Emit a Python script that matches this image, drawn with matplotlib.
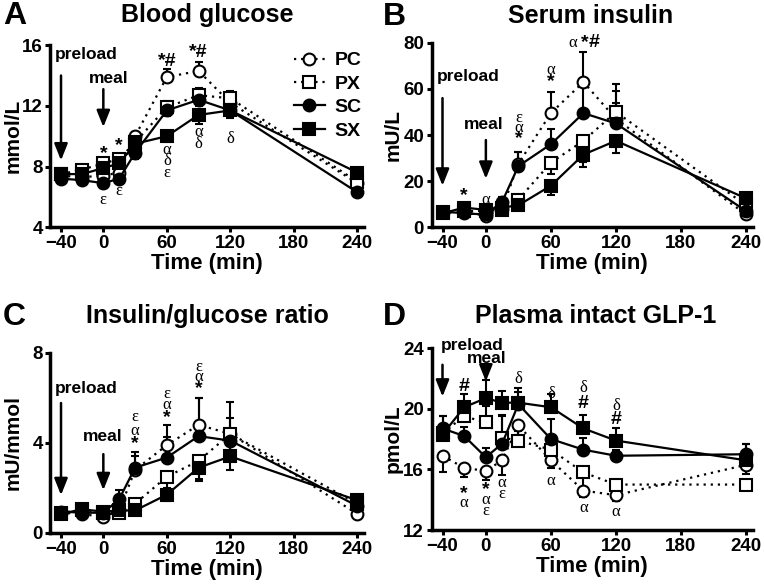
import numpy as np
import matplotlib
matplotlib.use("Agg")
import matplotlib.pyplot as plt

plt.rcParams['font.family'] = ['Liberation Sans', 'DejaVu Sans']
plt.rcParams['font.weight'] = 'bold'

# DATA
time_min = [-40, -20, 0, 15, 30, 60, 90, 120, 240]
x_ticks = [-40, 0, 60, 120, 180, 240]
groups = ['PC', 'PX', 'SC', 'SX']

# A - blood glucose (mmol/L); error sign: + bar drawn up, - bar drawn down
glu_pc = [7.4, 7.3, 7.4, 7.6, 10.0, 13.9, 14.3, 12.2, 6.9]
glu_px = [7.5, 7.8, 8.2, 8.5, 9.6, 11.9, 12.7, 12.5, 7.0]
glu_sc = [7.2, 7.1, 6.9, 7.2, 8.9, 11.7, 12.4, 11.7, 6.3]
glu_sx = [7.5, 7.5, 7.9, 8.2, 9.5, 10.0, 11.4, 11.7, 7.6]
glu_pc_err = [0.2, 0.2, 0.3, 0.3, 0.3, 0.5, 0.6, 0.5, 0.3]
glu_px_err = [0.2, 0.2, 0.3, 0.3, 0.3, 0.4, 0.5, 0.5, 0.3]
glu_sc_err = [-0.2, -0.2, -0.3, -0.3, -0.4, -0.4, -0.4, -0.4, -0.2]
glu_sx_err = [-0.2, -0.2, -0.3, -0.3, -0.5, -0.4, -0.6, -0.5, -0.3]

# B - serum insulin (mU/L)
ins_pc = [6.5, 6.5, 5.0, 8.0, 27.5, 49.5, 63.0, 47.0, 5.5]
ins_px = [6.5, 7.0, 7.0, 7.5, 12.0, 28.0, 37.5, 50.0, 9.5]
ins_sc = [6.8, 6.0, 5.5, 11.0, 26.5, 36.0, 49.5, 45.0, 7.0]
ins_sx = [6.0, 8.5, 7.5, 8.5, 9.5, 18.0, 31.5, 37.5, 12.5]
ins_pc_err = [1, 1, 1, 2, 5, 9, 13, 12, 1]
ins_px_err = [-1, -1, -1, -1, -1, -5, -9, 12, -2]
ins_sc_err = [1, 1, 1, 2, 6, 6.5, 12, 9, 1]
ins_sx_err = [-1, -1, -1, -1, -1, -4, -5.5, -5.5, -1]

# C - insulin/glucose ratio (mU/mmol)
rat_pc = [0.9, 0.85, 0.7, 1.0, 2.8, 3.9, 4.8, 4.4, 0.85]
rat_px = [0.9, 1.0, 0.9, 0.9, 1.3, 2.5, 3.2, 4.4, 1.3]
rat_sc = [0.95, 0.9, 0.9, 1.5, 2.9, 3.35, 4.3, 4.1, 1.2]
rat_sx = [0.85, 1.05, 0.95, 1.0, 1.0, 1.7, 2.9, 3.4, 1.45]
rat_pc_err = [0.1, 0.1, 0.1, 0.1, 0.6, 0.9, 1.2, 1.4, 0.1]
rat_px_err = [-0.1, -0.1, -0.1, -0.1, -0.2, -0.5, -0.8, -0.8, -0.1]
rat_sc_err = [0.1, 0.1, 0.1, 0.4, 0.7, 0.9, 1.7, 1.0, 0.2]
rat_sx_err = [-0.1, -0.1, -0.1, -0.1, -0.1, -0.3, -0.6, -0.6, -0.2]

# D - plasma intact GLP-1 (pmol/L)
glp_pc = [16.9, 16.1, 15.9, 16.6, 18.9, 16.6, 14.6, 14.3, 16.3]
glp_px = [18.4, 19.5, 19.1, 18.1, 17.9, 17.3, 15.8, 15.0, 15.0]
glp_sc = [18.7, 18.2, 16.8, 17.7, 20.3, 18.0, 17.3, 16.9, 17.0]
glp_sx = [18.3, 20.1, 20.7, 20.4, 20.4, 20.1, 18.7, 17.9, 16.6]
glp_pc_err = [-1.1, -0.6, -0.6, -1.0, -0.6, -0.5, -0.4, -0.4, -0.6]
glp_px_err = [0.5, 0.6, 1.1, 1.5, 0.6, -0.5, -1.0, -0.8, 0.3]
glp_sc_err = [0.8, 0.6, 0.6, 1.8, 0.8, 1.3, 0.8, 0.4, 0.7]
glp_sx_err = [1.2, 0.9, 1.2, 0.8, 1.0, 0.9, 0.9, 0.8, 1.1]

# significance marks: (time, y, text)
marks_a = [(60, 14.9, '*#'), (90, 15.5, '*#'), (0, 8.85, '*'), (15, 9.4, '*'),
           (0, 5.8, 'ε'), (15, 6.4, 'ε'), (60, 9.1, 'α'), (60, 8.36, 'δ'),
           (60, 7.6, 'ε'), (90, 10.3, 'α'), (90, 9.5, 'δ'), (120, 9.8, 'δ')]
marks_b = [(-20, 13.8, '*'), (0, 11.6, 'α'), (30, 47.3, 'ε'), (30, 43.2, 'α'),
           (30, 38.5, '*'), (60, 68.4, 'α'), (60, 63.3, '*'), (80, 80, 'α'),
           (91, 80, '*'), (100, 80, '#')]
marks_c = [(30, 5.17, 'ε'), (30, 4.54, 'α'), (30, 3.99, '*'),
           (60, 6.19, 'ε'), (60, 5.7, 'α'), (60, 5.13, '*'),
           (90, 7.36, 'ε'), (90, 6.91, 'α'), (90, 6.39, '*')]
marks_d = [(-20, 21.47, '#'), (30, 21.96, 'δ'), (60, 20.99, 'δ'), (90, 21.36, 'δ'),
           (90, 20.37, '#'), (120, 20.15, 'δ'), (120, 19.27, '#'),
           (-20, 14.4, '*'), (-20, 13.8, 'α'), (0, 14.7, '*'), (0, 14.0, 'α'),
           (0, 13.25, 'ε'), (15, 15.08, 'α'), (15, 14.4, 'ε'), (60, 15.26, 'α'),
           (90, 13.43, 'α'), (120, 13.2, 'α')]


def group_style(name):
    """marker / fill / line style for each group"""
    marker = 'o' if name[1] == 'C' else 's'
    face = 'white' if name[0] == 'P' else 'black'
    ls = (0, (1, 2.2)) if name[0] == 'P' else '-'
    return marker, face, ls


def plot_series(ax, y, err, name):
    marker, face, ls = group_style(name)
    err = np.array(err, dtype=float)
    lower = np.where(err < 0, -err, 0)
    upper = np.where(err > 0, err, 0)
    ax.errorbar(time_min, y, yerr=[lower, upper], fmt='none', ecolor='black',
                elinewidth=1.5, capsize=3, capthick=1.5, zorder=2)
    ax.plot(time_min, y, linestyle=ls, color='black', lw=1.6, marker=marker,
            markersize=8.5, markerfacecolor=face, markeredgecolor='black',
            markeredgewidth=1.5, label=name, zorder=3)


def style_axes(ax, ylim, yticks, ylabel):
    ax.set_xlim(-50, 246)
    ax.set_ylim(*ylim)
    ax.set_xticks(x_ticks)
    ax.set_yticks(yticks)
    for s in ['top', 'right']:
        ax.spines[s].set_visible(False)
    for s in ['left', 'bottom']:
        ax.spines[s].set_linewidth(2.5)
    ax.tick_params(width=2.2, length=3.5, labelsize=13.5, pad=2)
    ax.set_xlabel('Time (min)', fontsize=16, fontweight='bold', labelpad=1)
    ax.set_ylabel(ylabel, fontsize=15, fontweight='bold')
    ax.yaxis.set_label_coords(-0.09, 0.5)


def add_marks(ax, marks):
    for t, y, txt in marks:
        if txt in ('α', 'δ', 'ε'):
            ax.text(t, y, txt, ha='center', va='center', fontsize=12, zorder=5,
                    family=['Liberation Serif', 'DejaVu Serif'], fontweight='normal')
        else:
            ax.text(t, y, txt, ha='center', va='center', fontsize=14,
                    fontweight='bold', zorder=5)


def add_arrow(ax, x, y0, y1):
    ax.annotate('', xy=(x, y1), xytext=(x, y0),
                arrowprops=dict(arrowstyle='-|>,head_width=0.4,head_length=1.0',
                                lw=1.8, color='black', mutation_scale=10,
                                shrinkA=0, shrinkB=0))


fig = plt.figure(figsize=(7.64, 5.87), dpi=100)
ax_a = fig.add_axes([0.066, 0.613, 0.41, 0.31])
ax_b = fig.add_axes([0.565, 0.613, 0.42, 0.314])
ax_c = fig.add_axes([0.066, 0.092, 0.41, 0.307])
ax_d = fig.add_axes([0.565, 0.097, 0.42, 0.31])

panels = [
    (ax_a, [glu_pc, glu_px, glu_sc, glu_sx], [glu_pc_err, glu_px_err, glu_sc_err, glu_sx_err],
     (4, 16), [4, 8, 12, 16], 'mmol/L', 'A', 'Blood glucose', marks_a, 1.128, 0.50),
    (ax_b, [ins_pc, ins_px, ins_sc, ins_sx], [ins_pc_err, ins_px_err, ins_sc_err, ins_sx_err],
     (0, 80), [0, 20, 40, 60, 80], 'mU/L', 'B', 'Serum insulin', marks_b, 1.11, 0.495),
    (ax_c, [rat_pc, rat_px, rat_sc, rat_sx], [rat_pc_err, rat_px_err, rat_sc_err, rat_sx_err],
     (0, 8), [0, 4, 8], 'mU/mmol', 'C', 'Insulin/glucose ratio', marks_c, 1.167, 0.50),
    (ax_d, [glp_pc, glp_px, glp_sc, glp_sx], [glp_pc_err, glp_px_err, glp_sc_err, glp_sx_err],
     (12, 24), [12, 16, 20, 24], 'pmol/L', 'D', 'Plasma intact GLP-1', marks_d, 1.137, 0.51),
]

for ax, series, errs, ylim, yticks, ylabel, letter, title, marks, ty, tx in panels:
    for y, e, name in zip(series, errs, groups):
        plot_series(ax, y, e, name)
    style_axes(ax, ylim, yticks, ylabel)
    add_marks(ax, marks)
    for c in ax.get_children():
        if hasattr(c, 'set_clip_on'):
            c.set_clip_on(False)
    # panel title and letter
    ax.text(tx, ty, title, transform=ax.transAxes, ha='center', va='baseline',
            fontsize=18, fontweight='bold')
    ax.text(-0.152, ty - 0.012, letter, transform=ax.transAxes, ha='left', va='baseline',
            fontsize=23, fontweight='bold')

# preload / meal labels and arrows
ax_a.text(-46, 15.4, 'preload', ha='left', va='center', fontsize=12.5)
add_arrow(ax_a, -40, 14.0, 8.4)
ax_a.text(5, 13.8, 'meal', ha='center', va='center', fontsize=12.5)
add_arrow(ax_a, 0, 13.1, 10.6)

ax_b.text(-16, 65.5, 'preload', ha='center', va='center', fontsize=12.5)
add_arrow(ax_b, -40, 56, 18)
ax_b.text(-2, 44.4, 'meal', ha='center', va='center', fontsize=12.5)
add_arrow(ax_b, 0, 37.8, 21)

ax_c.text(-16, 6.4, 'preload', ha='center', va='center', fontsize=12.5)
add_arrow(ax_c, -40, 5.77, 1.68)
ax_c.text(-1, 4.28, 'meal', ha='center', va='center', fontsize=12.5)
add_arrow(ax_c, 0, 3.5, 1.9)

ax_d.text(-13, 24.2, 'preload', ha='center', va='center', fontsize=12.5)
add_arrow(ax_d, -40, 22.9, 20.8)
ax_d.text(1, 23.3, 'meal', ha='center', va='center', fontsize=12.5)
add_arrow(ax_d, 0, 22.95, 21.8)

ax_a.legend(loc='upper right', bbox_to_anchor=(1.05, 1.06), frameon=False,
            fontsize=14, handlelength=1.6, labelspacing=0.3, handletextpad=0.5)

fig.savefig('out.png', dpi=100)
